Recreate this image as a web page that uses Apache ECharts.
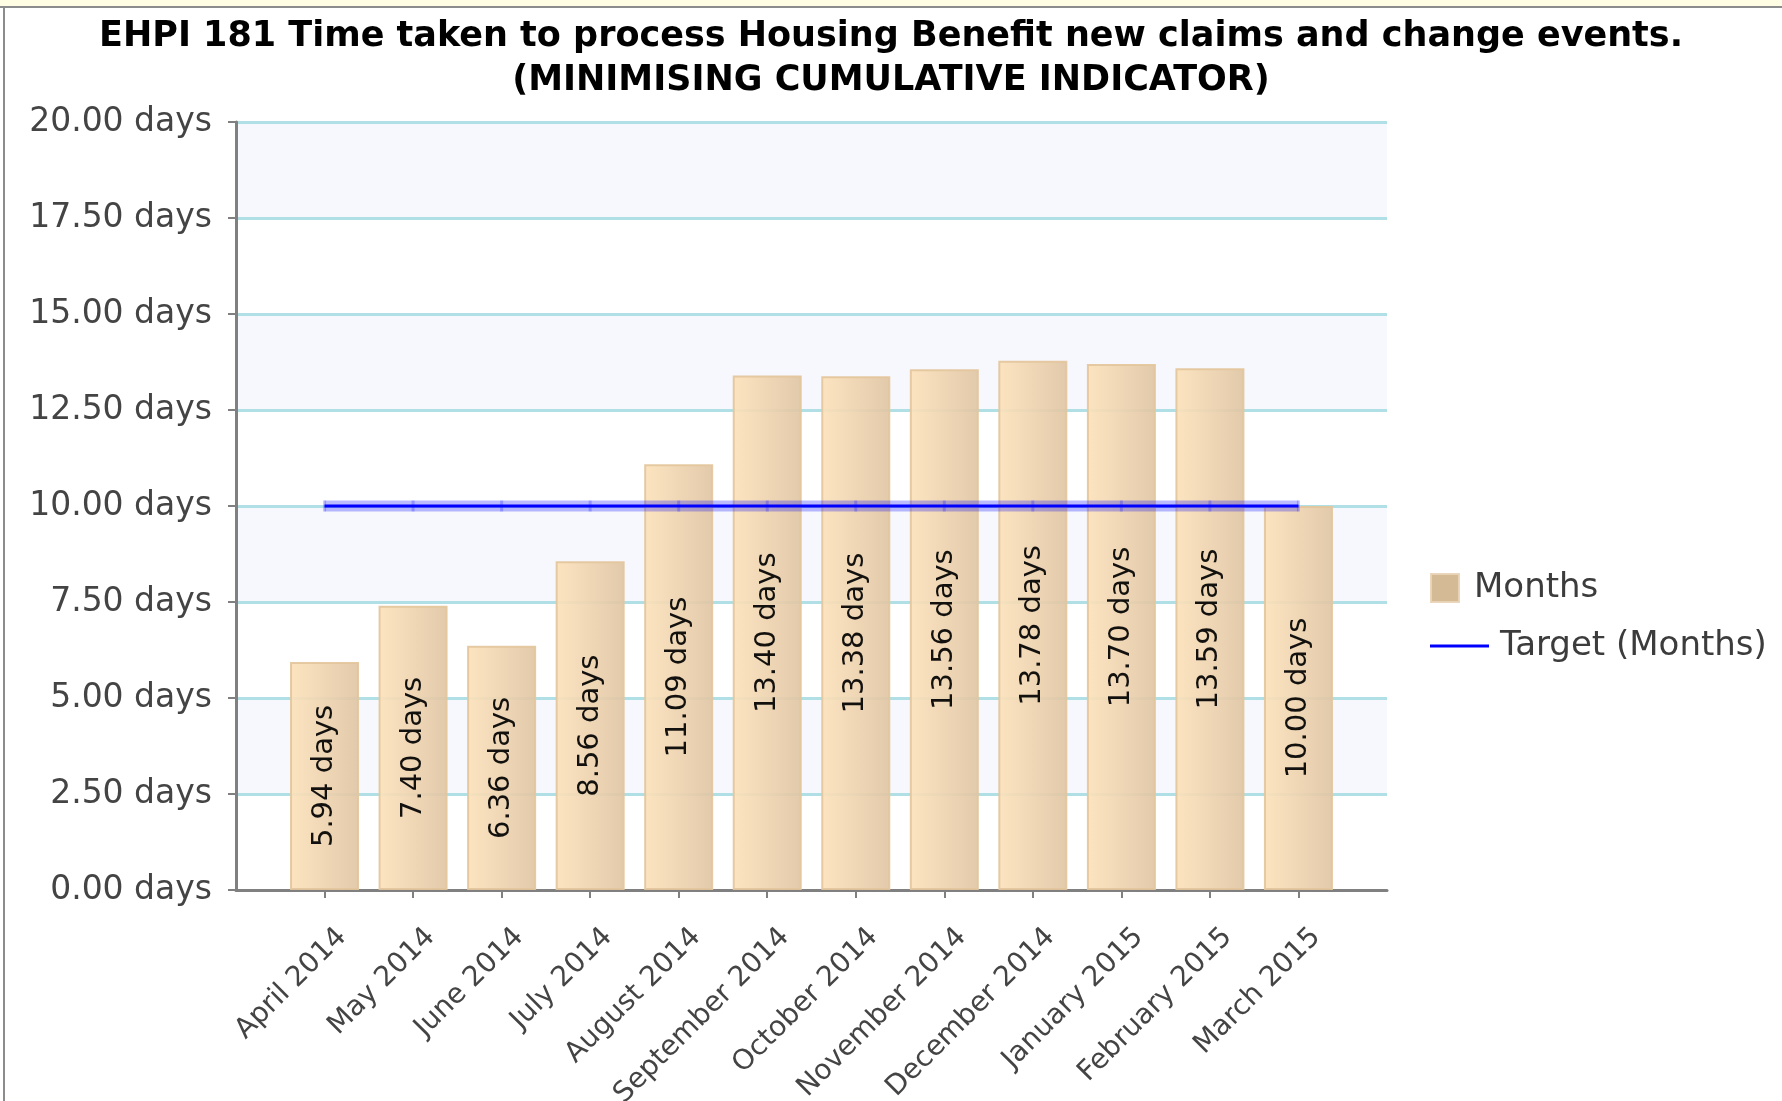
<!DOCTYPE html>
<html>
<head>
<meta charset="utf-8">
<script src="https://cdn.jsdelivr.net/npm/echarts@6/dist/echarts.min.js"></script>
<style>
  html, body { margin: 0; padding: 0; background: #fff; }
  #chart { width: 1782px; height: 1101px; }
</style>
</head>
<body>
<div id="chart"></div>
<script>
var months = ['April 2014', 'May 2014', 'June 2014', 'July 2014', 'August 2014', 'September 2014',
  'October 2014', 'November 2014', 'December 2014', 'January 2015', 'February 2015', 'March 2015'];
var actual = [5.94, 7.40, 6.36, 8.56, 11.09, 13.40, 13.38, 13.56, 13.78, 13.70, 13.59, 10.00];
var target = [10, 10, 10, 10, 10, 10, 10, 10, 10, 10, 10, 10];
var yTicks = [0, 2.5, 5, 7.5, 10, 12.5, 15, 17.5, 20];

// empty slot at each end so the bars sit in from the axis ends
var cats = [''].concat(months, ['']);
var barData = ['-'].concat(actual, ['-']);
var lineData = ['-'].concat(target, ['-']);

var font = 'DejaVu Sans';

var option = {
  animation: false,
  backgroundColor: '#ffffff',
  title: {
    text: 'EHPI 181 Time taken to process Housing Benefit new claims and change events.\n(MINIMISING CUMULATIVE INDICATOR)',
    left: 'center',
    top: 10,
    textStyle: {fontFamily: font, fontWeight: 'bold', fontSize: 35, lineHeight: 44, color: '#000'}
  },
  graphic: [
    {type: 'rect', shape: {x: 0, y: 0, width: 1782, height: 6}, style: {fill: '#fffde4'}},
    {type: 'line', shape: {x1: 0, y1: 7, x2: 1782, y2: 7}, style: {stroke: '#8c8c8c', lineWidth: 2}},
    {type: 'line', shape: {x1: 4, y1: 7, x2: 4, y2: 1101}, style: {stroke: '#8c8c8c', lineWidth: 2}}
  ],
  legend: [
    {
      orient: 'vertical', left: 1425, top: 566,
      itemWidth: 28, itemHeight: 28,
      textStyle: {fontFamily: font, fontSize: 34, color: '#3c3c3c', padding: [0, 0, 0, 10]},
      data: [{name: 'Months', icon: 'rect', itemStyle: {color: '#d0b48c', borderColor: '#e9d4b7', borderWidth: 2}}]
    },
    {
      orient: 'vertical', left: 1425, top: 624,
      itemWidth: 59, itemHeight: 3,
      textStyle: {fontFamily: font, fontSize: 34, color: '#3c3c3c', padding: [0, 0, 0, 6]},
      data: [{name: 'Target (Months)', icon: 'rect'}]
    }
  ],
  grid: {left: 236, right: 395, top: 122, bottom: 211, outerBoundsMode: 'none', containLabel: false},
  xAxis: {
    type: 'category',
    data: cats,
    boundaryGap: false,
    axisLine: {lineStyle: {color: '#808080', width: 3}},
    axisTick: {
      length: 8,
      lineStyle: {color: '#808080', width: 2},
      interval: function (i) { return i > 0 && i < cats.length - 1; }
    },
    axisLabel: {
      interval: 0, rotate: 45, margin: 25,
      verticalAlign: 'top', lineHeight: 50,
      fontFamily: font, fontSize: 28, color: '#444'
    },
    splitLine: {show: false}
  },
  yAxis: {
    type: 'value',
    min: yTicks[0], max: yTicks[yTicks.length - 1], interval: 2.5,
    axisLine: {show: true, lineStyle: {color: '#808080', width: 3}},
    axisTick: {show: true, length: 8, lineStyle: {color: '#808080', width: 2}},
    axisLabel: {
      margin: 24, fontFamily: font, fontSize: 33, color: '#444',
      formatter: function (v) { return v.toFixed(2) + ' days'; }
    },
    splitLine: {lineStyle: {color: '#b0e0e6', width: 3}},
    splitArea: {show: true, areaStyle: {color: ['#ffffff', '#f7f8fd']}}
  },
  series: [
    {
      name: 'Months',
      type: 'bar',
      data: barData,
      barWidth: 69,
      z: 2,
      itemStyle: {
        color: new echarts.graphic.LinearGradient(0, 0, 1, 0, [
          {offset: 0, color: '#fde2bb'},
          {offset: 1, color: '#dfc5a4'}
        ]),
        borderColor: '#e3c69c',
        borderWidth: 2,
        opacity: 0.92
      },
      label: {
        show: true,
        position: 'inside',
        rotate: 90,
        fontFamily: font,
        fontSize: 29,
        color: '#000',
        formatter: function (p) { return p.value.toFixed(2) + ' days'; }
      }
    },
    {
      name: 'halo',
      type: 'line',
      data: lineData,
      z: 3,
      symbol: 'rect',
      symbolSize: [3, 11],
      itemStyle: {color: 'rgba(0,0,255,0.22)'},
      lineStyle: {color: 'rgba(0,0,255,0.27)', width: 11},
      silent: true
    },
    {
      name: 'Target (Months)',
      type: 'line',
      data: lineData,
      z: 4,
      showSymbol: false,
      symbol: 'none',
      itemStyle: {color: '#0000ff'},
      lineStyle: {color: '#0000ff', width: 3}
    }
  ]
};

var chart = echarts.init(document.getElementById('chart'));
chart.setOption(option);
</script>
</body>
</html>
